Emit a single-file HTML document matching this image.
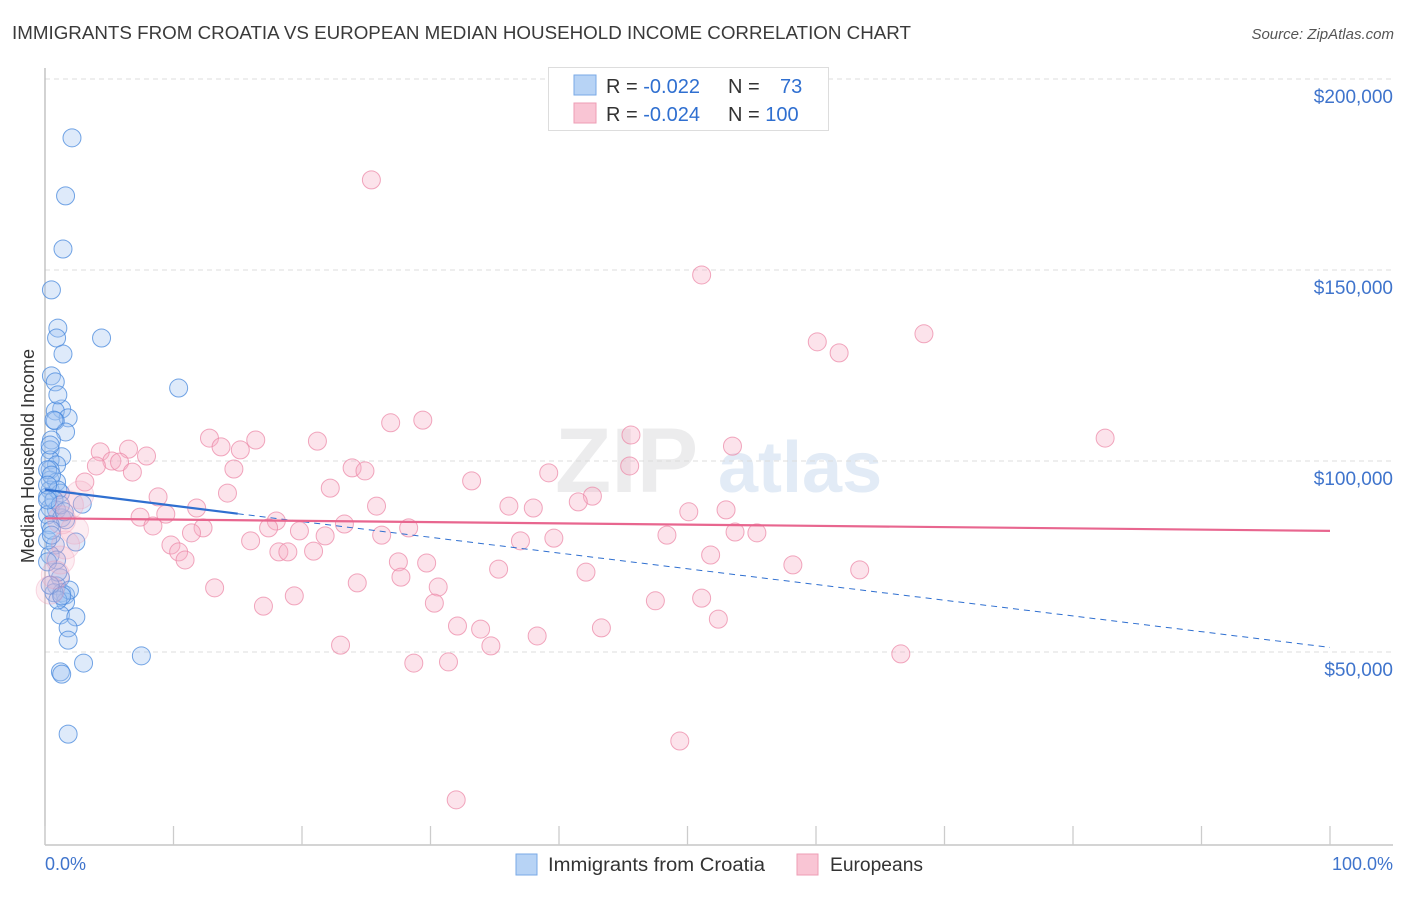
<!DOCTYPE html>
<html><head><meta charset="utf-8"><style>
body{margin:0;background:#fff;font-family:"Liberation Sans",sans-serif;}
svg text{font-family:"Liberation Sans",sans-serif;}
</style></head><body>
<svg id="chart" width="1406" height="892" viewBox="0 0 1406 892">
<text x="12" y="39" font-size="18" fill="#3a3a3a" textLength="899" lengthAdjust="spacingAndGlyphs">IMMIGRANTS FROM CROATIA VS EUROPEAN MEDIAN HOUSEHOLD INCOME CORRELATION CHART</text>
<text x="1394" y="39" font-size="15" fill="#555" font-style="italic" text-anchor="end">Source: ZipAtlas.com</text>
<g>
<text x="555" y="492" font-size="92" fill="#ececed" font-family="Liberation Serif" font-weight="bold">ZIP</text>
<text x="718" y="492" font-size="72" fill="#e2ebf6" font-weight="bold">atlas</text>
</g>
<g id="grid"></g>
<g id="axes"></g>
<text transform="translate(34,456) rotate(-90)" font-size="18" fill="#333" text-anchor="middle">Median Household Income</text>
<g id="blue"></g>
<g id="pink"></g>
<g id="trends"></g>
<g>
<rect x="548.5" y="67.5" width="280" height="63" fill="#fff" stroke="#ddd"/>
<rect x="574" y="75" width="22" height="20" fill="#b7d3f5" stroke="#7aa9e6"/>
<rect x="574" y="103" width="22" height="20" fill="#f9c5d4" stroke="#ee9db5"/>
<text x="606" y="93" font-size="20" fill="#333">R = <tspan fill="#2f6fd0">-0.022</tspan></text>
<text x="728" y="93" font-size="20" fill="#333">N = <tspan fill="#2f6fd0" x="780">73</tspan></text>
<text x="606" y="121" font-size="20" fill="#333">R = <tspan fill="#2f6fd0">-0.024</tspan></text>
<text x="728" y="121" font-size="20" fill="#333">N = <tspan fill="#2f6fd0">100</tspan></text>
</g>
<g>
<rect x="516" y="854" width="21" height="21" fill="#b7d3f5" stroke="#7aa9e6"/>
<text x="548" y="871" font-size="19" fill="#333" textLength="217" lengthAdjust="spacingAndGlyphs">Immigrants from Croatia</text>
<rect x="797" y="854" width="21" height="21" fill="#f9c5d4" stroke="#ee9db5"/>
<text x="830" y="871" font-size="19" fill="#333" textLength="93" lengthAdjust="spacingAndGlyphs">Europeans</text>
</g>
<text x="45" y="870" font-size="18" fill="#3f74cc">0.0%</text>
<text x="1393" y="870" font-size="18" fill="#3f74cc" text-anchor="end">100.0%</text>
</svg>
<script>
const yTicks=[50000,100000,150000,200000];
const yTickLabels=["$50,000","$100,000","$150,000","$200,000"];
const xTicks=[0,10,20,30,40,50,60,70,80,90,100];
const blueX=[2.1,1.6,1.4,0.5,1.0,0.9,4.4,1.4,0.5,0.8,10.4,1.3,0.8,1.8,0.8,1.6,0.5,0.4,1.3,0.4,0.9,0.4,0.4,0.9,0.4,1.2,0.2,2.9,0.4,0.9,0.2,1.3,1.6,0.4,2.4,0.8,0.4,0.9,0.2,1.2,0.9,1.3,1.6,1.6,1.2,2.4,1.8,1.8,3.0,7.5,1.2,1.3,1.8,0.2,0.5,1.0,0.2,0.5,0.7,1.2,0.2,0.4,0.7,1.0,1.9,0.7,1.0,1.5,0.5,1.0,0.4,1.3,0.2];
const blueY=[184.6,169.4,155.5,144.8,134.8,132.2,132.2,128.0,122.3,120.7,119.1,113.6,113.1,111.3,110.5,107.6,105.5,102.9,101.1,100.3,99.0,97.7,95.0,94.5,92.4,91.6,90.6,88.7,87.7,87.2,85.9,85.1,84.6,83.3,78.8,78.0,75.4,74.1,73.6,69.4,67.3,65.5,64.9,63.1,59.7,59.2,56.3,53.1,47.1,49.0,44.8,44.2,28.5,97.7,96.3,92.4,79.3,81.9,89.8,88.5,93.7,104.2,110.7,117.3,66.2,65.5,63.6,86.7,80.6,70.9,67.5,64.7,89.8];
const pinkX=[25.4,51.1,68.4,60.1,61.8,82.5,26.9,29.4,12.8,16.4,21.2,45.6,13.7,15.2,4.3,6.5,7.9,5.2,5.8,4.0,6.8,14.7,23.9,24.9,39.2,45.5,53.5,33.2,22.2,14.2,8.8,3.1,2.7,42.6,41.5,25.8,36.1,38.0,11.8,9.4,7.4,18.0,17.4,23.3,28.3,50.1,53.0,8.4,12.3,19.8,21.8,26.2,11.4,16.0,9.8,10.4,37.0,39.6,48.4,53.7,55.4,10.9,18.2,18.9,20.9,27.5,29.7,51.8,35.3,42.1,58.2,63.4,27.7,13.2,24.3,30.6,19.4,17.0,30.3,47.5,51.1,32.1,33.9,43.3,52.4,23.0,34.7,38.3,28.7,31.4,66.6,49.4,32.0,2.3,1.2,0.8,0.4,1.6,1.9,1.3];
const pinkY=[173.6,148.7,133.3,131.2,128.3,106.0,110.0,110.7,106.0,105.5,105.2,106.8,103.7,102.9,102.4,103.1,101.3,100.0,99.7,98.7,97.1,97.9,98.2,97.4,96.9,98.7,103.9,94.8,92.9,91.6,90.6,94.5,91.1,90.8,89.3,88.2,88.2,87.7,87.7,86.1,85.3,84.3,82.5,83.5,82.5,86.7,87.2,83.0,82.5,81.7,80.4,80.6,81.2,79.1,78.0,76.2,79.1,79.8,80.6,81.4,81.2,74.1,76.2,76.2,76.4,73.6,73.3,75.4,71.7,70.9,72.8,71.5,69.6,66.8,68.1,67.0,64.7,62.0,62.8,63.4,64.1,56.8,56.0,56.3,58.6,51.8,51.6,54.2,47.1,47.4,49.5,26.7,11.3,81.9,74.1,70.2,66.2,78.0,88.5,84.6];
const blueTrend=[92.5,86.2,51.2]; // y at x=0, 15, 100 (thousands)
const pinkTrend=[85.0,81.7]; // at x=0, x=100
const NS="http://www.w3.org/2000/svg";
const X=v=>45+v*12.85;
const Y=v=>843-v*191/50000;
const Yk=v=>Y(v*1000);
function mk(tag,attrs,parent){const e=document.createElementNS(NS,tag);for(const k in attrs)e.setAttribute(k,attrs[k]);parent.appendChild(e);return e;}
const grid=document.getElementById('grid'),axes=document.getElementById('axes');
yTicks.forEach((t,i)=>{
 const l=mk('line',{x1:45,x2:1393,y1:Y(t),y2:Y(t),stroke:'#dcdcdc','stroke-dasharray':'5,4'},grid);
 
 
 const tx=mk('text',{x:1393,y:Y(t)+24,'font-size':19,fill:'#3f74cc','text-anchor':'end'},grid);
 tx.textContent=yTickLabels[i];
 
 
});
const ya=mk('line',{x1:45,x2:45,y1:68,y2:845,stroke:'#bbb','stroke-width':1.3},axes);


const xa=mk('line',{x1:45,x2:1393,y1:845,y2:845,stroke:'#bbb','stroke-width':1.3},axes);


xTicks.forEach(t=>{
 const tk=mk('line',{x1:X(t),x2:X(t),y1:826,y2:845,stroke:'#ccc','stroke-width':1.3},axes);
 
 
});
const bg=document.getElementById('blue');
blueX.forEach((x,i)=>{
 const c=mk('circle',{cx:X(x),cy:Yk(blueY[i]),r:9,fill:'rgba(160,195,240,0.35)',stroke:'rgba(70,135,220,0.75)','stroke-width':1},bg);
 
 
});
const pg=document.getElementById('pink');
pinkX.forEach((x,i)=>{
 const big=x<3;
 const c=mk('circle',{cx:X(x),cy:Yk(pinkY[i]),r:big?14:9,fill:big?'rgba(245,175,198,0.22)':'rgba(245,175,198,0.35)',stroke:big?'rgba(236,138,168,0.3)':'rgba(236,138,168,0.75)','stroke-width':1},pg);
 
 
});
const tg=document.getElementById('trends');
const b1=mk('line',{x1:X(0),y1:Yk(blueTrend[0]),x2:X(15),y2:Yk(blueTrend[1]),stroke:'#2f6fd0','stroke-width':2.2},tg);


const b2=mk('line',{x1:X(15),y1:Yk(blueTrend[1]),x2:X(100),y2:Yk(blueTrend[2]),stroke:'#2f6fd0','stroke-width':1,'stroke-dasharray':'6,5'},tg);


const p1=mk('line',{x1:X(0),y1:Yk(pinkTrend[0]),x2:X(100),y2:Yk(pinkTrend[1]),stroke:'#e8668f','stroke-width':2.2},tg);


</script>
</body></html>
